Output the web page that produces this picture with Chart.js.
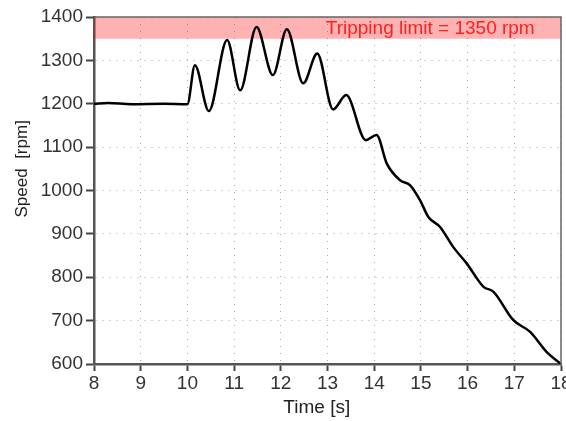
<!DOCTYPE html>
<html>
<head>
<meta charset="utf-8">
<script src="https://cdn.jsdelivr.net/npm/chart.js@4/dist/chart.umd.min.js"></script>
<style>
  html, body { margin: 0; padding: 0; background: #fff; }
  #wrap { width: 566px; height: 421px; }
</style>
</head>
<body>
<div id="wrap"><canvas id="speedChart" width="566" height="421"></canvas></div>
<script>
// values
const timeSec = [8.0, 8.3, 8.8, 9.5, 10.0, 10.16, 10.46, 10.85, 11.13, 11.48, 11.83, 12.13, 12.48, 12.78, 13.12, 13.40, 13.82, 14.05, 14.27, 14.55, 14.77, 14.98, 15.16, 15.41, 15.69, 15.98, 16.34, 16.55, 16.98, 17.34, 17.69, 18.0];
const speedRpm = [1200, 1202, 1199, 1200, 1199, 1289, 1183, 1347, 1231, 1377, 1266, 1372, 1247, 1316, 1187, 1220, 1116, 1128, 1062, 1024, 1012, 978, 939, 916, 870, 832, 778, 767, 701, 674, 628, 600];
const limitRpm = 1350;
const limitText = "Tripping limit = 1350 rpm";
const xTitle = "Time [s]";
const yTitle = "Speed  [rpm]";

const font = "'Liberation Sans', Arial, sans-serif";

// frame, limit label and axis titles
const extras = {
    id: 'extras',
    afterDatasetsDraw(chart) {
        const ctx = chart.ctx;
        const a = chart.chartArea;
        const x = chart.scales.x, y = chart.scales.y;
        ctx.save();
        ctx.strokeStyle = '#666';
        ctx.lineWidth = 1.5;
        ctx.beginPath();
        ctx.moveTo(a.left, a.top);
        ctx.lineTo(a.right, a.top);
        ctx.lineTo(a.right, a.bottom);
        ctx.stroke();

        ctx.fillStyle = '#ff2020';
        ctx.font = '19px ' + font;
        ctx.textAlign = 'center';
        ctx.textBaseline = 'middle';
        ctx.fillText(limitText, x.getPixelForValue(15.2), y.getPixelForValue(1373));

        ctx.fillStyle = '#222';
        ctx.font = '19px ' + font;
        ctx.fillText(xTitle, x.getPixelForValue(12.77), a.bottom + 44);

        ctx.translate(22, y.getPixelForValue(1050));
        ctx.rotate(-Math.PI / 2);
        ctx.font = '17px ' + font;
        ctx.fillText(yTitle, 0, 0);
        ctx.restore();
    }
};

const data = {
    datasets: [
        {
            label: 'limit',
            data: [{x: 8, y: limitRpm}, {x: 18, y: limitRpm}],
            borderWidth: 0,
            pointRadius: 0,
            fill: 'end',
            backgroundColor: 'rgba(255, 0, 0, 0.3)',
            order: 2
        },
        {
            label: 'Speed',
            data: timeSec.map((t, i) => ({x: t, y: speedRpm[i]})),
            borderColor: '#000',
            borderWidth: 2.5,
            pointRadius: 0,
            fill: false,
            cubicInterpolationMode: 'monotone',
            order: 1
        }
    ]
};

const config = {
    type: 'line',
    data: data,
    options: {
        responsive: false,
        animation: false,
        layout: { padding: { top: 17, right: 5, left: 0, bottom: 0 } },
        plugins: {
            legend: { display: false },
            tooltip: { enabled: false }
        },
        scales: {
            x: {
                type: 'linear',
                min: 8,
                max: 18,
                ticks: { stepSize: 1, color: '#333', font: { family: font, size: 19 }, padding: 1, callback: v => String(v) },
                grid: { color: '#a8a8a8', lineWidth: 1, tickLength: 7, tickColor: '#444', tickWidth: 2 },
                border: { color: '#555', width: 2.5, dash: [1, 6] },
                afterFit(s) { s.height = 57; s.paddingLeft = 0; s.paddingRight = 0; }
            },
            y: {
                min: 600,
                max: 1400,
                ticks: { stepSize: 100, color: '#333', font: { family: font, size: 19 }, padding: 3, callback: v => String(v) },
                grid: { color: '#a8a8a8', lineWidth: 1, tickLength: 8, tickColor: '#444', tickWidth: 2 },
                border: { color: '#555', width: 2.5, dash: [1, 6] },
                afterFit(s) { s.width = 94; }
            }
        }
    },
    plugins: [extras]
};

new Chart(document.getElementById('speedChart'), config);
</script>
</body>
</html>
